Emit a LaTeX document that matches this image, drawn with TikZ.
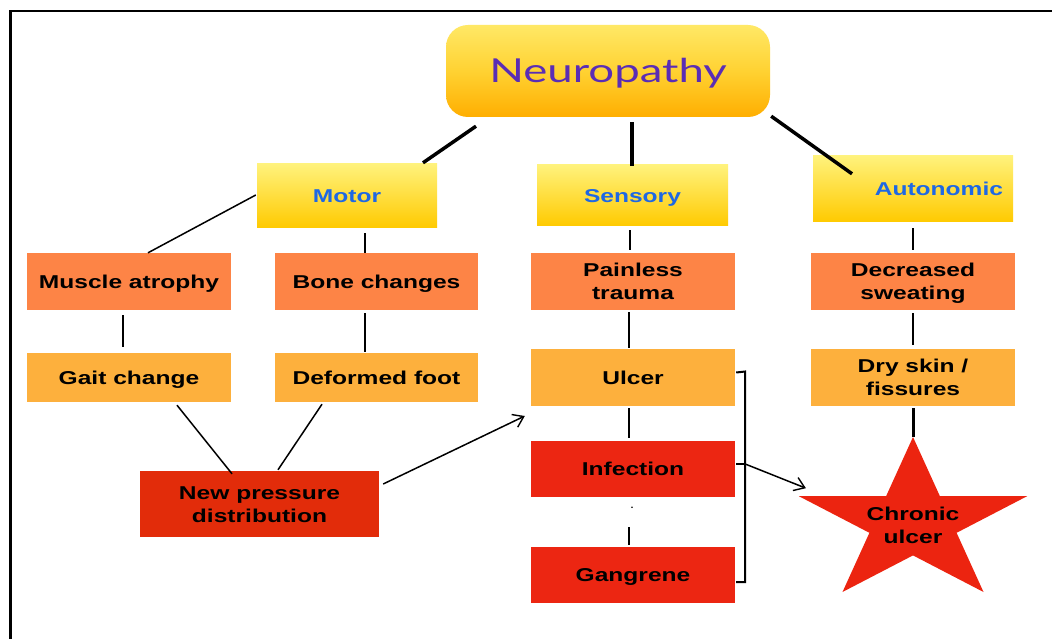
\documentclass[tikz,border=0pt]{standalone}
\usepackage{fontspec}
\setmainfont{Liberation Sans}
\newfontfamily\labf[FakeStretch=1.32]{Liberation Sans}
\newfontfamily\titlef[FakeStretch=1.38]{Lato}
\usetikzlibrary{calc,arrows.meta}
\definecolor{orA}{HTML}{FD8446}
\definecolor{orB}{HTML}{FDB03D}
\definecolor{redA}{HTML}{EC2612}
\definecolor{redB}{HTML}{E22C0A}
\definecolor{starRed}{HTML}{EC2410}
\definecolor{yelT}{HTML}{FFF27C}
\definecolor{yelB}{HTML}{FFCA00}
\definecolor{nTop}{HTML}{FFE866}
\definecolor{nMid}{HTML}{FFD232}
\definecolor{nBot}{HTML}{FFAE00}
\definecolor{purpT}{HTML}{5A2DB5}
\definecolor{blueT}{HTML}{1E68E4}
\begin{document}
\begin{tikzpicture}[x=1pt,y=-1pt,
  box/.style={rectangle, inner sep=0pt, align=center, text=black,
    text height=13.3pt, text depth=0pt,
    font={\labf\fontsize{18.6pt}{23pt}\selectfont\bfseries}},
  twoline/.style={text height=36.3pt, text depth=0pt},
  catbox/.style={box, top color=yelT, bottom color=yelB, text=blueT},
  wide/.style={minimum width=204pt},
  lvlA/.style={box, wide, fill=orA, minimum height=57pt},
  lvlB/.style={box, wide, fill=orB},
  lvlC/.style={box, wide, fill=redA, minimum height=56pt},
  thickcon/.style={line width=3.5pt},
  thincon/.style={line width=1.5pt},
  barb/.style={-{Straight Barb[length=10pt,width=14pt,line width=1.4pt]}}
]
\useasboundingbox (0,0) rectangle (1052,639);
\fill[white] (0,0) rectangle (1052,639);
\draw[line width=2.5pt] (1052,11) -- (10.3,11) -- (10.3,639);

% top node
\node[rounded corners=22pt, top color=nTop, bottom color=nBot, middle color=nMid,
  minimum width=324pt, minimum height=92pt, inner sep=0pt, text=purpT,
  text height=23pt, text depth=0pt,
  font={\titlef\fontsize{33pt}{40pt}\selectfont}] (neuro) at (608,71) {Neuropathy};

% categories
\node[catbox, minimum width=180pt, minimum height=64pt] (motor) at (347,196) {Motor};
\node[catbox, minimum width=191pt, minimum height=61pt] (sensory) at (632.5,195.5) {Sensory};
\node[catbox, minimum width=200pt, minimum height=66pt, text width=180pt, align=right] (auto) at (913,189) {Autonomic};

% level A
\node[lvlA] (muscle) at (129,281.5) {Muscle atrophy};
\node[lvlA, minimum width=203pt] (bone) at (376.5,281.5) {Bone changes};
\node[lvlA, twoline] (painless) at (633,281.5) {Painless\\trauma};
\node[lvlA, twoline] (decreased) at (913,281.5) {Decreased\\sweating};

% level B
\node[lvlB, minimum height=49pt] (gait) at (129,377.5) {Gait change};
\node[lvlB, minimum width=203pt, minimum height=49pt] (deformed) at (376.5,377.5) {Deformed foot};
\node[lvlB, minimum height=57pt] (ulcer) at (633,377.5) {Ulcer};
\node[lvlB, twoline, minimum height=57pt] (dry) at (913,377.5) {Dry skin /\\fissures};

% level C
\node[lvlC] (infection) at (633,469) {Infection};
\node[lvlC] (gangrene) at (633,575) {Gangrene};
\node[box, twoline, fill=redB, minimum width=239pt, minimum height=66pt] (newp) at (259.5,504) {New pressure\\distribution};

% star
\fill[starRed] (913,437) -- (939.9,496.2) -- (1027.1,496.2) -- (956.6,532.8) -- (983.5,592)
  -- (913,555.4) -- (842.5,592) -- (869.4,532.8) -- (798.9,496.2) -- (886.1,496.2) -- cycle;
\coordinate (startop) at (913,437);
\coordinate (starleft) at (798.9,496.2);
\node[box, twoline] (chronic) at (913,525) {Chronic\\ulcer};

% connectors from top
\draw[thickcon] ($(neuro.south)+(-132,9)$) -- ($(motor.north)+(76,-1)$);
\draw[thickcon] ($(neuro.south)+(24,5)$) -- ($(sensory.north)+(-0.5,1)$);
\draw[thickcon] ($(neuro.south east)+(1,-1)$) -- ($(auto.north)+(-61,18)$);

% thin connectors
\draw[thincon] ($(motor.west)+(-1,-1)$) -- ($(muscle.north)+(19,0)$);
\draw[thincon] ($(motor.south)+(18,5)$) -- ($(bone.north)+(-11.5,0)$);
\draw[thincon] ($(sensory.south)+(-2.5,4)$) -- ($(painless.north)+(-3,-3)$);
\draw[thincon] ($(auto.south)+(0,6)$) -- ($(decreased.north)+(0,-3)$);
\draw[thincon] ($(muscle.south)+(-6,5)$) -- ($(gait.north)+(-6,-6)$);
\draw[thincon] ($(bone.south)+(-11.5,3)$) -- ($(deformed.north)+(-11.5,-1)$);
\draw[thincon] ($(painless.south)+(-4,2)$) -- ($(ulcer.north)+(-4,-1)$);
\draw[thincon] ($(decreased.south)+(0,3)$) -- ($(dry.north)+(0,-4)$);
\draw[thincon] ($(ulcer.south)+(-4,2)$) -- ($(infection.north)+(-4,-3)$);
\fill ($(infection.south)+(-1,10)$) circle (0.9pt);
\draw[thincon] ($(infection.south)+(-4,30)$) -- ($(gangrene.north)+(-4,-2)$);
\draw[thincon] ($(gait.south)+(48,3)$) -- ($(newp.north)+(-27.5,3)$);
\draw[thincon] ($(deformed.south)+(-54.5,2)$) -- ($(newp.north)+(18.5,-1)$);
\draw[line width=3pt] ($(dry.south)+(0,2)$) -- (startop);

% arrows
\draw[thincon, barb] ($(newp.east)+(4,-20)$) -- ($(ulcer.west)+(-6,38.5)$);
\draw[line width=2pt] ($(ulcer.east)+(1,-5)$) -- ++(9,-1) -- ($(gangrene.east)+(10,7)$) -- ++(-9,0);
\draw[line width=2pt] ($(infection.east)+(1,-5)$) -- ++(9,0);
\draw[thincon, barb] ($(infection.east)+(10,-5)$) -- ($(starleft)+(7,-8)$);
\end{tikzpicture}
\end{document}
